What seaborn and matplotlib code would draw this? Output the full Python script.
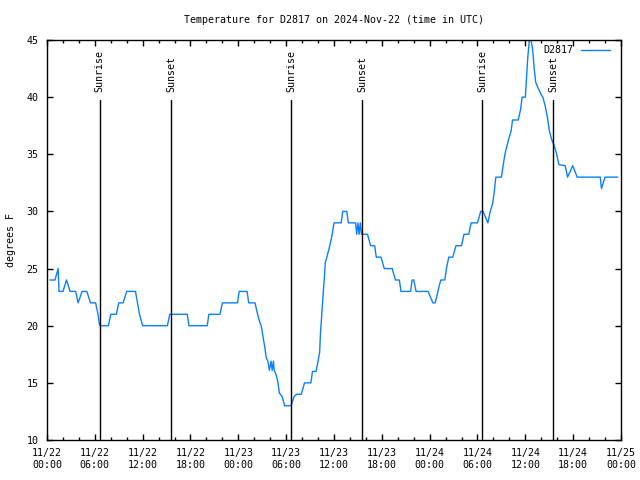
import pandas as pd
import seaborn as sns
import matplotlib.pyplot as plt
import matplotlib.dates as mdates
import matplotlib.transforms as mtransforms

# -------------------------------------------------------------------
# Data (hours since 2024-11-22 00:00 UTC, temperature in F)
# -------------------------------------------------------------------
hours = [0.35, 1.0, 1.4, 1.5, 2.0, 2.45, 2.9, 3.6, 3.9, 4.4, 5.0, 5.45, 6.1, 6.4, 6.6,
         7.7, 8.0, 8.7, 9.0, 9.55, 10.0, 11.1, 11.35, 11.6, 12.0,
         15.1, 15.4, 17.6, 17.8, 20.1, 20.3, 21.7, 22.0, 23.9, 24.1, 25.1, 25.3, 26.1,
         26.25, 26.6, 26.9, 27.1, 27.3, 27.5, 27.7, 27.9, 28.1, 28.25, 28.4, 28.5,
         28.75, 28.95, 29.15, 29.5, 29.8, 30.6,
         31.0, 31.3, 31.9, 32.3, 33.1, 33.3, 33.75, 33.95, 34.2, 34.3, 34.5, 34.7,
         34.8, 34.9, 35.1, 35.4, 35.6, 35.8, 36.0, 36.9, 37.1, 37.6, 37.8, 38.7,
         38.85, 39.0, 39.15, 39.3, 39.45, 40.2, 40.6, 41.1, 41.3, 41.9, 42.3, 43.3,
         43.7, 44.2, 44.4, 45.6, 45.8, 46.0, 46.3, 47.8, 48.4, 48.7, 49.2, 49.4,
         49.9, 50.1, 50.4, 50.9, 51.3, 52.0, 52.3, 52.9, 53.2, 54.0, 54.4, 54.7,
         55.3, 55.6, 55.9, 56.1, 56.3, 57.0, 57.3, 57.5, 57.9, 58.2, 58.4, 59.1,
         59.4, 59.6, 60.0, 60.3, 60.5, 60.7, 60.9, 61.1, 61.3, 61.6, 62.0, 62.2,
         62.5, 62.8, 63.0, 63.3, 63.6, 63.9, 64.2, 65.0, 65.3, 65.95, 66.5, 69.4,
         69.55, 70.0, 71.6]
temps = [24, 24, 25, 23, 23, 24, 23, 23, 22, 23, 23, 22, 22, 21, 20,
         20, 21, 21, 22, 22, 23, 23, 22, 21, 20,
         20, 21, 21, 20, 20, 21, 21, 22, 22, 23, 23, 22, 22,
         21.5, 20.5, 19.9, 19.0, 18.2, 17.2, 16.9, 16.1, 16.9, 16.1, 16.9, 16.1,
         15.7, 15.1, 14.1, 13.8, 13.0, 13.0,
         13.8, 14, 14, 15, 15, 16, 16, 16.7, 17.7, 19.3, 21.4, 23.4,
         24.3, 25.5, 26.0, 26.8, 27.4, 28.1, 29, 29, 30, 30, 29, 29,
         28, 29, 28, 29, 28, 28, 27, 27, 26, 26, 25, 25,
         24, 24, 23, 23, 24, 24, 23, 23, 22, 22, 23.5, 24,
         24, 25, 26, 26, 27, 27, 28, 28, 29, 29, 30, 30,
         29, 30, 30.7, 31.7, 33, 33, 34.4, 35.2, 36.3, 37, 38, 38,
         38.9, 40, 40, 43.4, 45, 45, 44.3, 42.6, 41.3, 40.8, 40.2, 40,
         39.2, 38.1, 37.1, 36.3, 35.8, 35.1, 34.1, 34, 33, 34, 33, 33,
         32, 33, 33]

sun_hours = [6.6, 15.55, 30.6, 39.55, 54.62, 63.52]
sun_labels = ["Sunrise", "Sunset", "Sunrise", "Sunset", "Sunrise", "Sunset"]

base = pd.Timestamp("2024-11-22 00:00")
df = pd.DataFrame({"time": base + pd.to_timedelta(hours, unit="h"), "temp": temps})

# -------------------------------------------------------------------
# Style
# -------------------------------------------------------------------
sns.set_style("ticks")
plt.rcParams["font.family"] = ["DejaVu Sans Mono"]
plt.rcParams["text.color"] = "black"
plt.rcParams["axes.labelcolor"] = "black"
plt.rcParams["xtick.color"] = "black"
plt.rcParams["ytick.color"] = "black"
fs = 7.2

fig = plt.figure(figsize=(6.4, 4.8), dpi=100)
ax = fig.add_axes([47 / 640, 40 / 480, 574 / 640, 400 / 480])

sns.lineplot(data=df, x="time", y="temp", ax=ax, color="#0a80ff", lw=1.0, label="D2817")

# Sunrise / Sunset markers
trans = mtransforms.blended_transform_factory(ax.transData, ax.transAxes)
for h, lab in zip(sun_hours, sun_labels):
    t = base + pd.Timedelta(hours=h)
    ax.axvline(t, ymin=0, ymax=0.85, color="black", lw=1.0)
    ax.text(mdates.date2num(t), 0.87, lab, transform=trans, rotation=90,
            ha="center", va="bottom", fontsize=fs, color="black")

ax.set_xlim(base, base + pd.Timedelta(hours=72))
ax.set_ylim(10, 45)
ax.set_yticks(range(10, 46, 5))
ax.xaxis.set_major_locator(mdates.HourLocator(byhour=range(0, 24, 6)))
ax.xaxis.set_minor_locator(mdates.HourLocator(byhour=range(0, 24, 2)))
ax.xaxis.set_major_formatter(mdates.DateFormatter("%m/%d\n%H:%M"))

ax.tick_params(which="both", direction="in", top=True, right=True, labelsize=fs,
               width=1, color="black", labelcolor="black")
ax.tick_params(which="major", length=4.5)
ax.tick_params(which="minor", length=2.5)
ax.tick_params(axis="x", pad=6)
ax.tick_params(axis="y", pad=6)
for s in ax.spines.values():
    s.set_linewidth(1)
    s.set_color("black")
    s.set_visible(True)

ax.set_xlabel("")
ax.set_ylabel("degrees F", fontsize=fs, labelpad=8, color="black")
fig.text(334 / 640, 1 - 20 / 480, "Temperature for D2817 on 2024-Nov-22 (time in UTC)",
         ha="center", va="center", fontsize=fs, color="black")

ax.legend(loc="upper right", bbox_to_anchor=(0.993, 1.005), frameon=False,
          markerfirst=False, fontsize=fs, handlelength=2.9, borderaxespad=0.3,
          handletextpad=0.8)

plt.savefig("out.png", dpi=100)
plt.close()
